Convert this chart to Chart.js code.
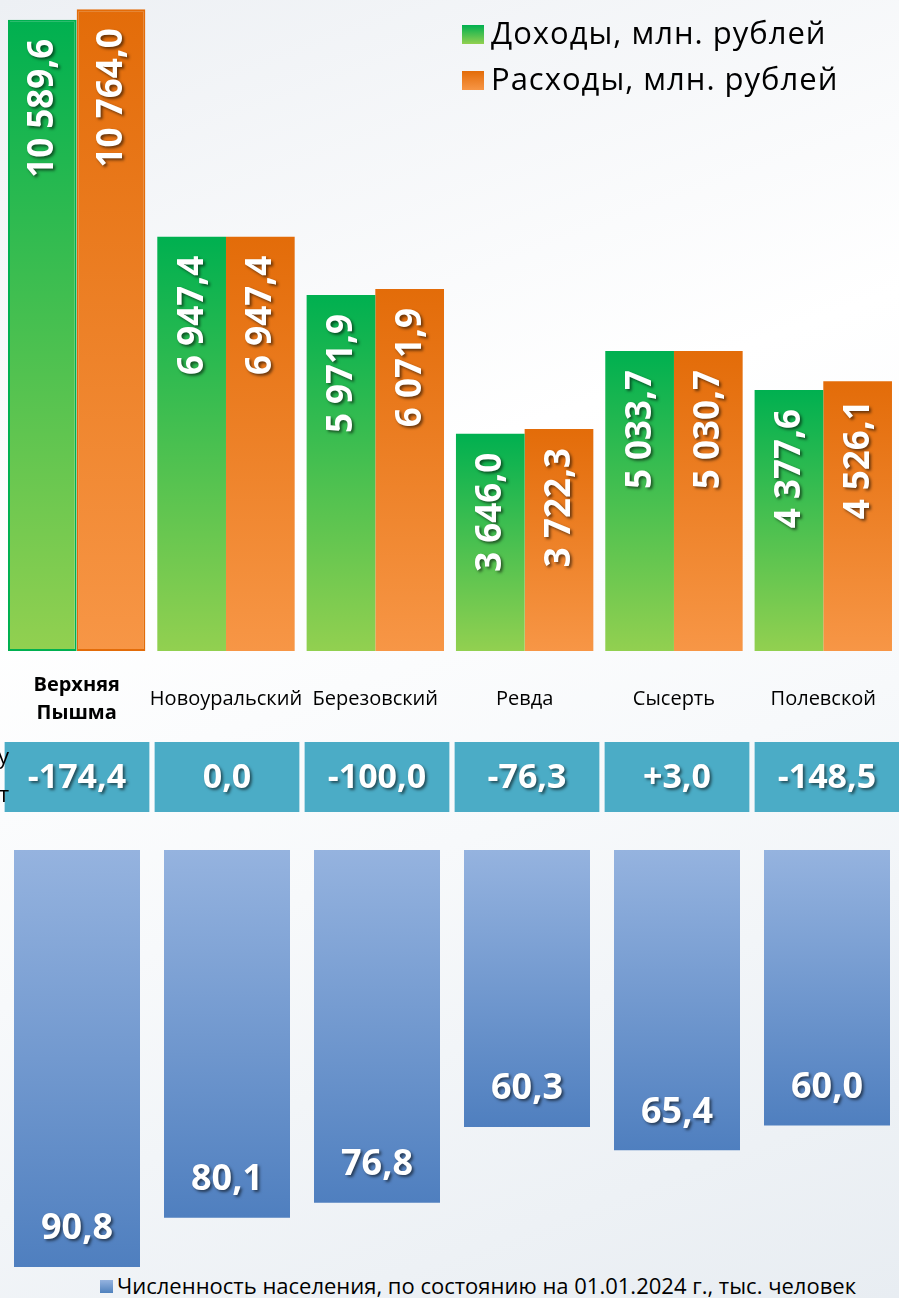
<!DOCTYPE html>
<html>
<head>
<meta charset="utf-8">
<script src="https://cdn.jsdelivr.net/npm/chart.js@4.4.1/dist/chart.umd.min.js"></script>
<style>
  html, body { margin: 0; padding: 0; }
  body {
    width: 899px; height: 1298px; overflow: hidden; position: relative;
    font-family: "Open Sans", sans-serif;
    background: linear-gradient(160deg, #edf0f4 0%, #ffffff 38%, #f7f9fb 62%, #e8edf2 100%);
  }
  .wrap { position: absolute; left: 0; width: 902px; }
  .legend-top { position: absolute; left: 462px; top: 9px; font-size: 31px; letter-spacing: 1px; color: #000; }
  .legend-top div { height: 46px; line-height: 46px; white-space: nowrap; }
  .sq { display: inline-block; width: 22px; height: 19px; margin-right: 7px; vertical-align: 0; }
  .legend-bottom { position: absolute; left: 100px; top: 1271px; font-size: 22px; line-height: 28px; white-space: nowrap; }
  .legend-bottom .sq { width: 13px; height: 13px; margin-right: 4px; vertical-align: 1px; }
  .cut { position: absolute; right: 890px; top: 736px; font-size: 22px; line-height: 38px; text-align: right; white-space: nowrap; color: #000; }
</style>
</head>
<body>
<div class="wrap" style="top:0;height:730px"><canvas id="budgetChart"></canvas></div>
<div class="wrap" style="top:742px;height:70px"><canvas id="balanceChart"></canvas></div>
<div class="wrap" style="top:850px;height:420px"><canvas id="popChart"></canvas></div>

<div class="legend-top">
  <div><span class="sq" style="background:linear-gradient(#00b050,#92d050)"></span>Доходы, млн. рублей</div>
  <div><span class="sq" style="background:linear-gradient(#e36c09,#f79646)"></span>Расходы, млн. рублей</div>
</div>
<div class="cut">по бюджету<br>дефицит / профицит</div>
<div class="legend-bottom"><span class="sq" style="background:linear-gradient(#95b3df,#4f81bd)"></span>Численность населения, по состоянию на 01.01.2024 г., тыс. человек</div>

<script>
const cities = [["Верхняя", "Пышма"], "Новоуральский", "Березовский", "Ревда", "Сысерть", "Полевской"];
const income = [10589.6, 6947.4, 5971.9, 3646.0, 5033.7, 4377.6];
const expenses = [10764.0, 6947.4, 6071.9, 3722.3, 5030.7, 4526.1];
const balance = ["-174,4", "0,0", "-100,0", "-76,3", "+3,0", "-148,5"];
const population = [90.8, 80.1, 76.8, 60.3, 65.4, 60.0];

const FONT = '"Open Sans", sans-serif';

// 10589.6 -> "10 589,6"
function fmt(v, dec) {
  const parts = v.toFixed(dec).split(".");
  parts[0] = parts[0].replace(/\B(?=(\d{3})+(?!\d))/g, " ");
  return parts.join(",");
}

// gradient for each bar, from its top to its base
function barGradient(topColor, bottomColor, reversed) {
  return function (context) {
    const chart = context.chart;
    const area = chart.chartArea;
    if (!area || context.raw === undefined) return bottomColor;
    const y = chart.scales.y;
    const v = Array.isArray(context.raw) ? context.raw[1] : context.raw;
    const end = y.getPixelForValue(v);
    const base = y.getPixelForValue(0);
    const g = chart.ctx.createLinearGradient(0, reversed ? base : end, 0, reversed ? end : base);
    g.addColorStop(0, topColor);
    g.addColorStop(1, bottomColor);
    return g;
  };
}

function shadowText(ctx) {
  ctx.shadowColor = "rgba(0,0,0,0.55)";
  ctx.shadowOffsetX = 2;
  ctx.shadowOffsetY = 2;
  ctx.shadowBlur = 3;
}

// labels rotated inside the top bars
const verticalLabels = {
  id: "verticalLabels",
  afterDatasetsDraw(chart) {
    const ctx = chart.ctx;
    chart.data.datasets.forEach((ds, i) => {
      chart.getDatasetMeta(i).data.forEach((bar, j) => {
        ctx.save();
        shadowText(ctx);
        ctx.translate(bar.x + 1, bar.y + 19);
        ctx.rotate(-Math.PI / 2);
        ctx.font = "bold 35px " + FONT;
        ctx.fillStyle = "#fff";
        ctx.textAlign = "right";
        ctx.textBaseline = "middle";
        ctx.fillText(fmt(ds.data[j], 1), 0, 0);
        ctx.restore();
      });
    });
  }
};

new Chart(document.getElementById("budgetChart"), {
  type: "bar",
  data: {
    labels: cities,
    datasets: [
      {
        label: "Доходы, млн. рублей",
        data: income,
        backgroundColor: barGradient("#00b050", "#92d050"),
        borderColor: "#00b050",
        borderWidth: (c) => (c.dataIndex === 0 ? 2 : 0),
        borderSkipped: false
      },
      {
        label: "Расходы, млн. рублей",
        data: expenses,
        backgroundColor: barGradient("#e36c09", "#f79646"),
        borderColor: "#e36c09",
        borderWidth: (c) => (c.dataIndex === 0 ? 2 : 0),
        borderSkipped: false
      }
    ]
  },
  options: {
    responsive: true,
    maintainAspectRatio: false,
    animation: false,
    layout: { padding: { left: 2, right: 0, top: 0, bottom: 0 } },
    datasets: { bar: { categoryPercentage: 0.92, barPercentage: 1 } },
    plugins: { legend: { display: false }, tooltip: { enabled: false } },
    scales: {
      x: {
        grid: { display: false },
        border: { display: false },
        afterFit: (scale) => { scale.height = 79; },
        ticks: {
          padding: 26,
          color: "#000",
          crossAlign: "center",
          maxRotation: 0,
          autoSkip: false,
          font: (c) => ({ family: FONT, size: 20, weight: c.index === 0 ? "bold" : "normal", lineHeight: 1.4 })
        }
      },
      y: { display: false, min: 0, max: 10920 }
    }
  },
  plugins: [verticalLabels]
});

// row of deficit / surplus cells
new Chart(document.getElementById("balanceChart"), {
  type: "bar",
  data: {
    labels: cities,
    datasets: [{
      data: balance.map(() => [0, 1]),
      backgroundColor: "#4bacc6",
      borderWidth: 0
    }]
  },
  options: {
    responsive: true,
    maintainAspectRatio: false,
    animation: false,
    layout: { padding: { left: 2 } },
    datasets: { bar: { categoryPercentage: 0.965, barPercentage: 1 } },
    plugins: { legend: { display: false }, tooltip: { enabled: false } },
    scales: { x: { display: false }, y: { display: false, min: 0, max: 1 } }
  },
  plugins: [{
    id: "cellText",
    afterDatasetsDraw(chart) {
      const ctx = chart.ctx;
      const a = chart.chartArea;
      chart.getDatasetMeta(0).data.forEach((bar, j) => {
        ctx.save();
        shadowText(ctx);
        ctx.font = "bold 34px " + FONT;
        ctx.fillStyle = "#fff";
        ctx.textAlign = "center";
        ctx.textBaseline = "middle";
        ctx.fillText(balance[j], bar.x, (a.top + a.bottom) / 2 + 1);
        ctx.restore();
      });
    }
  }]
});

// population bars hanging from the top
new Chart(document.getElementById("popChart"), {
  type: "bar",
  data: {
    labels: cities,
    datasets: [{
      label: "Численность населения, по состоянию на 01.01.2024 г., тыс. человек",
      data: population,
      backgroundColor: barGradient("#95b3df", "#4f7fbf", true),
      borderWidth: 0
    }]
  },
  options: {
    responsive: true,
    maintainAspectRatio: false,
    animation: false,
    layout: { padding: { left: 2 } },
    datasets: { bar: { categoryPercentage: 0.84, barPercentage: 1 } },
    plugins: { legend: { display: false }, tooltip: { enabled: false } },
    scales: {
      x: { display: false },
      y: { display: false, reverse: true, min: 0, max: 91.45 }
    }
  },
  plugins: [{
    id: "popLabels",
    afterDatasetsDraw(chart) {
      const ctx = chart.ctx;
      chart.getDatasetMeta(0).data.forEach((bar, j) => {
        ctx.save();
        shadowText(ctx);
        ctx.font = "bold 36px " + FONT;
        ctx.fillStyle = "#fff";
        ctx.textAlign = "center";
        ctx.textBaseline = "middle";
        ctx.fillText(fmt(population[j], 1), bar.x, bar.y - 38);
        ctx.restore();
      });
    }
  }]
});
</script>
</body>
</html>
